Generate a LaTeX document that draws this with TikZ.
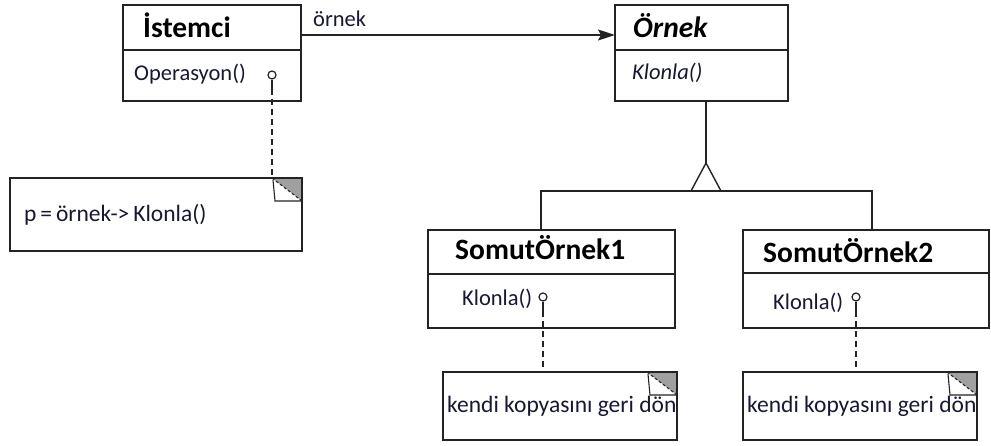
\documentclass[tikz,border=0pt]{standalone}
\usepackage{fontspec}
\setmainfont{Carlito}
\usetikzlibrary{arrows.meta}

\definecolor{ink}{RGB}{24,24,52}
\definecolor{frame}{RGB}{35,35,35}
\definecolor{foldgrey}{RGB}{160,160,160}

\tikzset{
  classbox/.style={draw=frame, line width=1.4pt, fill=white, anchor=north west,
                   inner sep=0pt, outer sep=0pt},
  notebox/.style={classbox, line width=1.2pt},
  classtitle/.style={anchor=base west, inner sep=0pt,
                     font=\fontsize{29.5}{33}\selectfont\bfseries, text=black},
  member/.style={anchor=base west, inner sep=0pt,
                 font=\fontsize{22.5}{26}\selectfont, text=ink},
  notetext/.style={member, font=\fontsize{23.5}{27}\selectfont},
  link/.style={draw=frame, line width=1.4pt},
  notelink/.style={draw=frame, line width=1.2pt, dash pattern=on 6pt off 4pt},
  lolly/.style={draw=frame, line width=1.2pt, fill=white, circle,
                minimum size=8pt, inner sep=0pt}
}

% folded page corner at the top right of a note
\newcommand\foldcorner[1]{%
  \fill[foldgrey] ([xshift=-30pt]#1.north east) -- (#1.north east)
        -- ([yshift=-23pt]#1.north east) -- cycle;
  \filldraw[fill=white, draw=frame, line width=1.1pt]
        ([xshift=-29pt,yshift=-2pt]#1.north east)
        -- ([xshift=-27pt,yshift=-23pt]#1.north east)
        -- ([yshift=-23pt]#1.north east);
  \draw[frame, line width=1.1pt, dash pattern=on 3pt off 2pt]
        ([xshift=-30pt]#1.north east) -- ([yshift=-23pt]#1.north east);
  \draw[frame, line width=1.2pt] (#1.north west) rectangle (#1.south east);
}

\begin{document}
\begin{tikzpicture}[x=1pt, y=-1pt]
  \useasboundingbox (0,0) rectangle (991,446);

  % ---- client class
  \node[classbox, minimum width=178pt, minimum height=96pt] (ist) at (123,5) {};
  \draw[link] (123,50) -- (301,50);
  \node[classtitle] (istT) at (143,38) {İstemci};
  \node[member] (istM) at (134,81) {Operasyon()};

  % ---- prototype interface
  \node[classbox, minimum width=173pt, minimum height=96pt] (orn) at (615,5) {};
  \draw[link] (615,50) -- (788,50);
  \node[classtitle, font=\fontsize{29.5}{33}\selectfont\bfseries\itshape] (ornT) at (633,38) {Örnek};
  \node[member, font=\fontsize{22.5}{26}\selectfont\itshape] (ornM) at (632,80) {Klonla()};

  % ---- concrete prototypes
  \node[classbox, minimum width=247pt, minimum height=98pt] (s1) at (428,230) {};
  \draw[link] (428,274) -- (675,274);
  \node[classtitle] (s1T) at (455,260) {SomutÖrnek1};
  \node[member] (s1M) at (462,306) {Klonla()};

  \node[classbox, minimum width=246pt, minimum height=98pt] (s2) at (743,230) {};
  \draw[link] (743,273) -- (989,273);
  \node[classtitle] (s2T) at (763,263) {SomutÖrnek2};
  \node[member] (s2M) at (773,310) {Klonla()};

  % ---- notes
  \node[notebox, minimum width=292pt, minimum height=73pt] (n1) at (10,178) {};
  \foldcorner{n1}
  \node[notetext] (n1T) at (24,222) {p\,=\,örnek->\,Klonla()};

  \node[notebox, minimum width=234pt, minimum height=68pt] (n2) at (443,372) {};
  \foldcorner{n2}
  \node[notetext] (n2T) at (447,413) {kendi kopyasını geri dön};

  \node[notebox, minimum width=234pt, minimum height=68pt] (n3) at (743,372) {};
  \foldcorner{n3}
  \node[notetext] (n3T) at (747,413) {kendi kopyasını geri dön};

  % ---- association İstemci -> Örnek
  \coordinate (aStart) at (301,35);
  \coordinate (aEnd) at (615,35);
  \draw[link, -{Stealth[length=17pt, width=11pt, inset=3pt]}] (aStart) -- (aEnd);
  \node[member] (aLbl) at (313,27) {örnek};

  % ---- generalisation
  \coordinate (gTop) at (706,101);
  \coordinate (gApex) at (706,163);
  \coordinate (gL) at (691,191);
  \coordinate (gR) at (721,191);
  \coordinate (b1) at (541,191);
  \coordinate (b2) at (872,191);
  \draw[link] (gTop) -- (gApex);
  \draw[link, line join=miter] (gL) -- (gApex) -- (gR);
  \draw[link] (b1 |- s1.north) -- (b1) -- (b2) -- (b2 |- s2.north);

  % ---- lollipops and note anchors
  \node[lolly] (l0) at (272,75) {};
  \node[lolly] (l1) at (543,297) {};
  \node[lolly] (l2) at (856,297) {};
  \coordinate (l0s) at (272,89);
  \coordinate (l1s) at (543,311);
  \coordinate (l2s) at (856,311);
  \draw[link, line width=1.2pt] (l0.south) -- (l0s);
  \draw[notelink] (l0s) -- (l0s |- n1.north);
  \draw[link, line width=1.2pt] (l1.south) -- (l1s);
  \draw[notelink] (l1s) -- (l1s |- n2.north);
  \draw[link, line width=1.2pt] (l2.south) -- (l2s);
  \draw[notelink] (l2s) -- (l2s |- n3.north);
\end{tikzpicture}
\end{document}
